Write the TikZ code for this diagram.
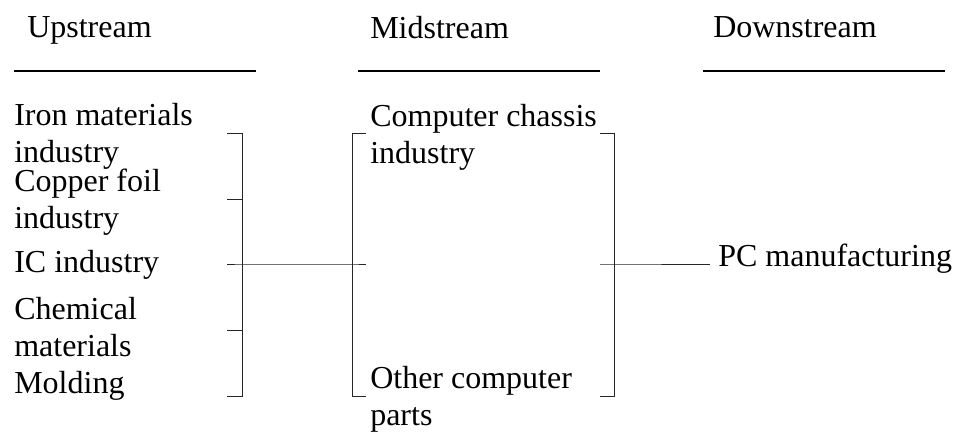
\documentclass[tikz,border=0pt]{standalone}
\usepackage{fontspec}
\setmainfont{Liberation Serif}
\usetikzlibrary{positioning,calc}

\begin{document}
\begin{tikzpicture}[x=0.75pt,y=-0.75pt,
  item/.style={rectangle,inner sep=0pt,anchor=base west,align=left,
    font=\fontsize{24}{27.3}\selectfont},
  rule/.style={line width=0.8pt},
  brace/.style={line width=0.6pt,black!85}]
		\useasboundingbox (0,0) rectangle (960,432);
		% headings
		\node[item] (1) at (27,37) {Upstream};
		\node[item] (2) at (370,38) {Midstream};
		\node[item] (3) at (713,37) {Downstream};
		\draw[rule] (14,71) -- (256,71);
		\draw[rule] (358,71) -- (600,71);
		\draw[rule] (703,71) -- (945,71);
		% upstream (base = last line)
		\node[item] (4) at (14,162) {Iron materials\\industry};
		\node[item] (5) at (14,228) {Copper foil\\industry};
		\node[item] (6) at (14,272) {IC industry};
		\node[item] (7) at (14,356) {Chemical\\materials};
		\node[item] (8) at (14,393) {Molding};
		% midstream
		\node[item] (9) at (370,163) {Computer chassis\\industry};
		\node[item] (10) at (370,425) {Other computer\\parts};
		% downstream
		\node[item] (11) at (718,266) {PC manufacturing};
		\coordinate (13) at (242,264);
		\coordinate (14) at (352,264);
		\coordinate (15) at (614,264);
		\coordinate (12) at ($(11.base west |- 15)+(-8,0)$);

		\draw[brace] (227,133) -| (242,396) -- (227,396);
		\draw[brace] (227,199) -- (242,199);
		\draw[brace] (227,330) -- (242,330);
		\draw[brace] (366,133) -| (352,396) -- (366,396);
		\draw[brace] (600,133) -| (614,396) -- (600,396);
		\draw[brace] (227,264) -- (13) -- (14) -- (366,264);
		\draw[brace] (600,264) -- (15) -- (12);
	\end{tikzpicture}
\end{document}
